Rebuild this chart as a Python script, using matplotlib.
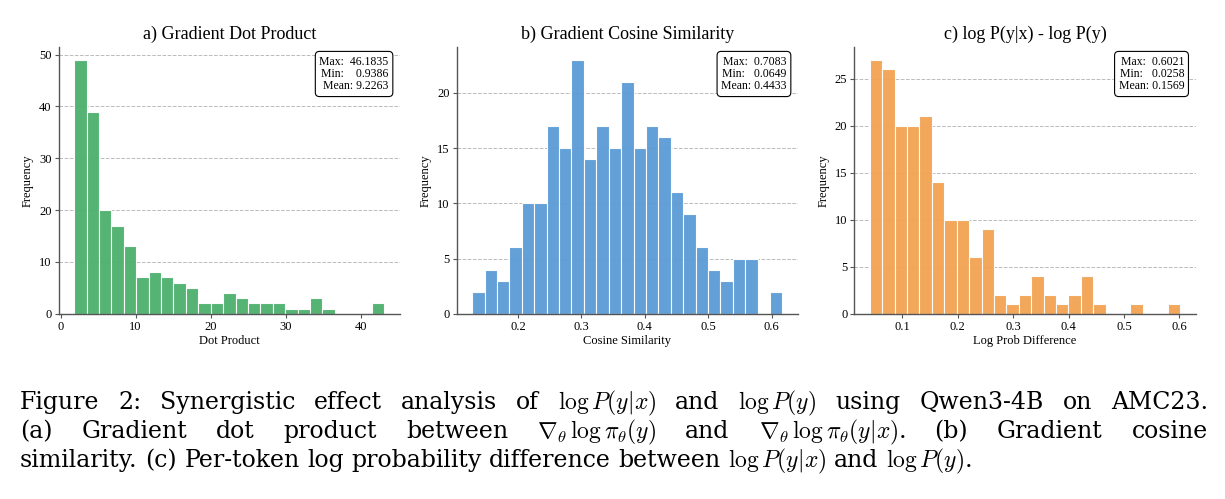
import matplotlib
matplotlib.use("Agg")
import matplotlib.pyplot as plt
import numpy as np

# ---- data (25 bins per panel) ----
dot_counts = [49, 39, 20, 17, 13, 7, 8, 7, 6, 5, 2, 2, 4, 3, 2, 2, 2, 1, 1, 3, 1, 0, 0, 0, 2]
dot_range = (1.82, 43.1)
dot_stats = "Max:  46.1835\nMin:    0.9386\nMean: 9.2263"

cos_counts = [2, 4, 3, 6, 10, 10, 17, 15, 23, 14, 17, 15, 21, 15, 17, 16, 11, 9, 6, 4, 3, 5, 5, 0, 2]
cos_range = (0.1279, 0.6168)
cos_stats = "Max:  0.7083\nMin:   0.0649\nMean: 0.4433"

lp_counts = [27, 26, 20, 20, 21, 14, 10, 10, 6, 9, 2, 1, 2, 4, 2, 1, 2, 4, 1, 0, 0, 1, 0, 0, 1]
lp_range = (0.0416, 0.6012)
lp_stats = "Max:  0.6021\nMin:   0.0258\nMean: 0.1569"

titles = ["a) Gradient Dot Product", "b) Gradient Cosine Similarity", "c) log P(y|x) - log P(y)"]
xlabels = ["Dot Product", "Cosine Similarity", "Log Prob Difference"]
colors = ["#4caf6b", "#5b9bd5", "#f2a252"]

caption = [
    r"Figure 2: Synergistic effect analysis of $\log P(y|x)$ and $\log P(y)$ using Qwen3-4B on AMC23.",
    r"(a) Gradient dot product between $\nabla_\theta \,\log \pi_\theta(y)$ and $\nabla_\theta \,\log \pi_\theta(y|x)$.  (b) Gradient cosine",
    r"similarity. (c) Per-token log probability difference between $\log P(y|x)$ and $\log P(y)$.",
]

plt.rcParams["font.family"] = ["Liberation Serif", "DejaVu Serif"]
plt.rcParams["mathtext.fontset"] = "cm"

W, H = 1225, 499
fig = plt.figure(figsize=(W / 100, H / 100), dpi=100)
lefts = [0.0479, 0.3728, 0.6974]
panels = [(dot_counts, dot_range, dot_stats),
          (cos_counts, cos_range, cos_stats),
          (lp_counts, lp_range, lp_stats)]

for i, (counts, rng, stats) in enumerate(panels):
    ax = fig.add_axes([lefts[i], 0.3713, 0.2786, 0.5345])
    edges = np.linspace(rng[0], rng[1], len(counts) + 1)
    centers = (edges[:-1] + edges[1:]) / 2
    ax.hist(centers, bins=edges, weights=counts, color=colors[i],
            edgecolor="white", linewidth=0.8, alpha=0.95)
    ax.set_title(titles[i], fontsize=13, pad=6)
    ax.set_xlabel(xlabels[i], fontsize=9, labelpad=2)
    ax.set_ylabel("Frequency", fontsize=9, labelpad=4)
    ax.tick_params(labelsize=9, length=3, width=0.8, color="#555555", pad=2)
    ax.grid(axis="y", linestyle="--", color="#aaaaaa", linewidth=0.7, alpha=0.8)
    ax.set_axisbelow(True)
    for s in ["top", "right"]:
        ax.spines[s].set_visible(False)
    for s in ["left", "bottom"]:
        ax.spines[s].set_color("#555555")
        ax.spines[s].set_linewidth(1.0)
    ax.text(0.967, 0.968, stats, transform=ax.transAxes, ha="right", va="top",
            multialignment="right", fontsize=8.5, linespacing=1.05,
            bbox=dict(boxstyle="round,pad=0.35", facecolor="white",
                      edgecolor="black", linewidth=0.8))


def split_words(s):
    # split on spaces that are not inside $...$
    words, cur, in_math = [], "", False
    for ch in s:
        if ch == "$":
            in_math = not in_math
        if ch == " " and not in_math:
            if cur:
                words.append(cur)
            cur = ""
        else:
            cur += ch
    if cur:
        words.append(cur)
    return words


# caption, justified like the paper text
renderer = fig.canvas.get_renderer()
x0, x1 = 20, 1208
ys = [409, 438, 467]
cap_font = dict(fontsize=17, family=["DejaVu Serif"], va="baseline", ha="left")
tmp = fig.text(0, 0, "a b", **cap_font)
tmp2 = fig.text(0, 0, "ab", **cap_font)
space_w = tmp.get_window_extent(renderer).width - tmp2.get_window_extent(renderer).width
tmp.remove()
tmp2.remove()
for k, (line, y) in enumerate(zip(caption, ys)):
    words = split_words(line)
    texts = [fig.text(0, 1 - y / H, w, **cap_font) for w in words]
    widths = [t.get_window_extent(renderer).width for t in texts]
    if k < len(caption) - 1:
        gap = (x1 - x0 - sum(widths)) / (len(words) - 1)
    else:
        gap = space_w
    x = x0
    for t, w in zip(texts, widths):
        t.set_x(x / W)
        x += w + gap

fig.savefig("out.png", dpi=100)
